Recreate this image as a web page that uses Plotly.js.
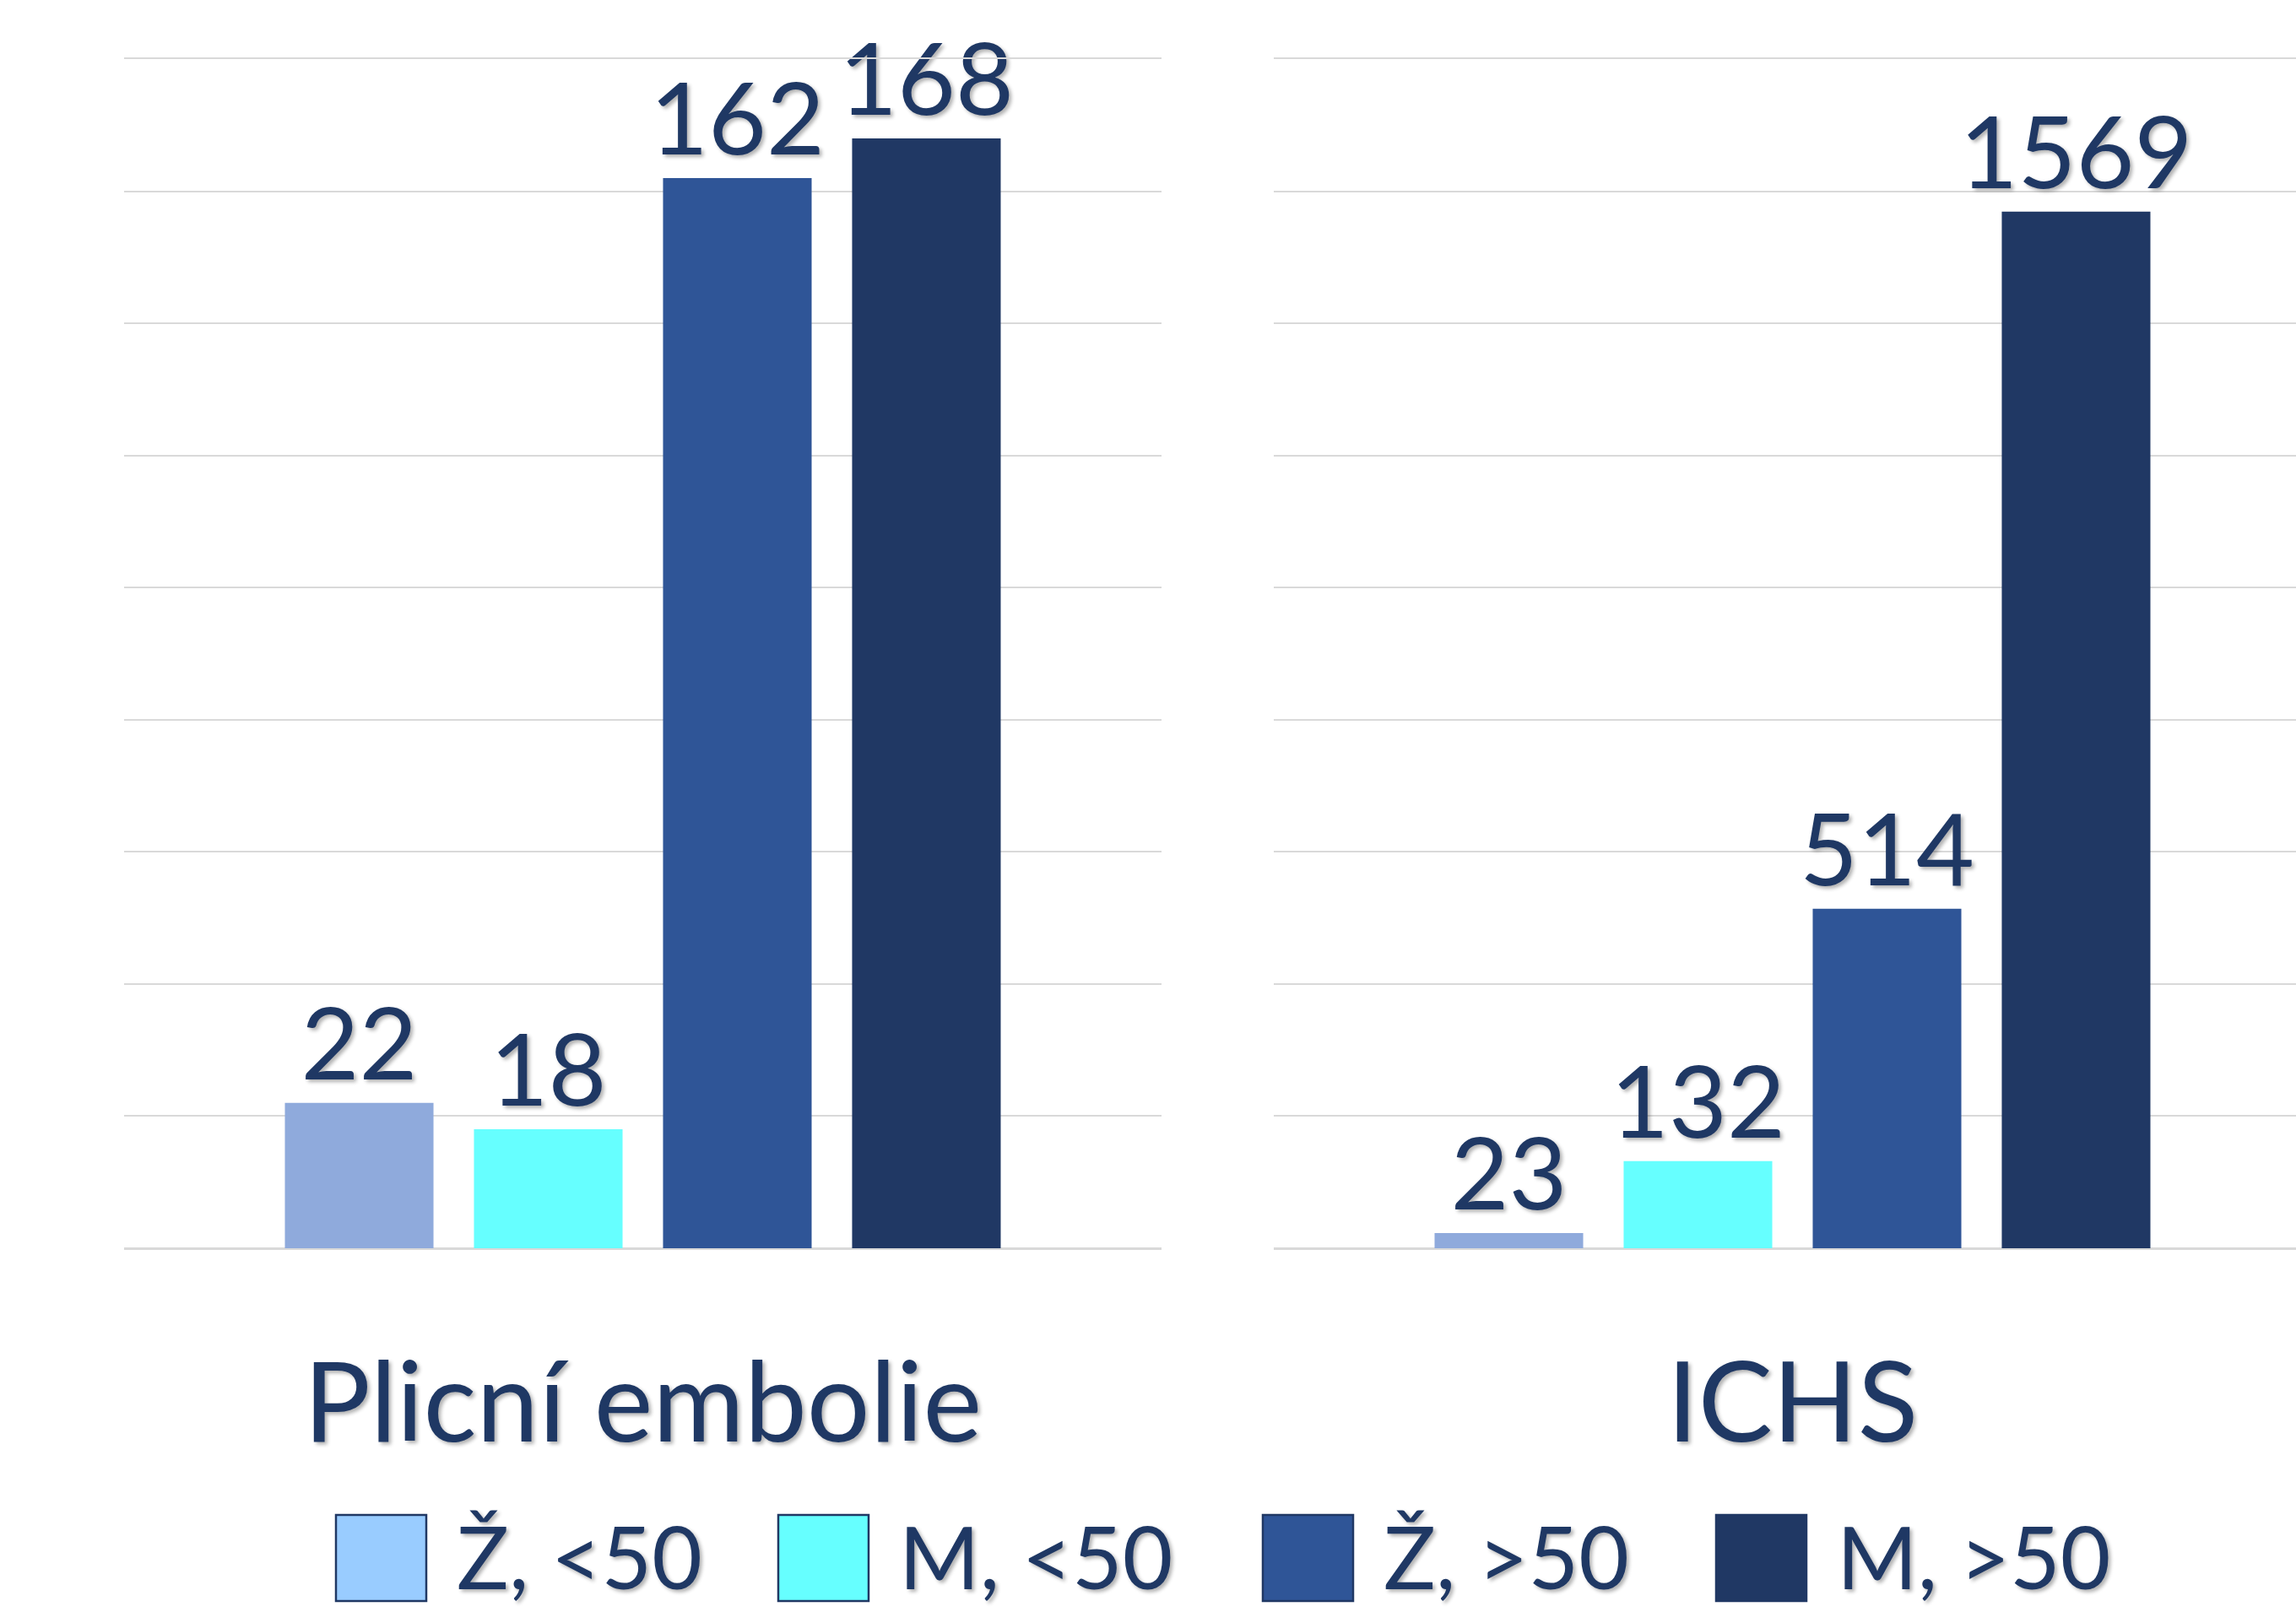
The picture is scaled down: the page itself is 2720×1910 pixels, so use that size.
<!DOCTYPE html>
<html>
<head>
<meta charset="utf-8">
<script src="https://cdn.plot.ly/plotly-3.0.1.min.js"></script>
<style>html,body{margin:0;padding:0;background:#ffffff;overflow:hidden}</style>
</head>
<body>
<div id="chart" style="width:2720px;height:1910px"></div>
<script>
// ---- data ----
const categories = ['Plicní embolie', 'ICHS'];
const seriesNames = ['Ž, <50', 'M, <50', 'Ž, >50', 'M, >50'];
const plicniEmbolie = [22, 18, 162, 168];
const ichs = [23, 132, 514, 1569];

// ---- styles ----
const barColors = ['#8FAADC', '#66FFFF', '#2F5597', '#203864'];
const legendColors = ['#99CCFF', '#66FFFF', '#2F5597', '#203864'];
const textColor = '#1F3864';
const fontFamily = 'Lato, "Open Sans", sans-serif';
const shadow = '3px 3px 4px rgba(0,0,0,0.30)';

const W = 2720, H = 1910;

const traces = [];
seriesNames.forEach((name, i) => {
  traces.push({
    type: 'bar', name: name, xaxis: 'x', yaxis: 'y',
    x: [categories[0]], y: [plicniEmbolie[i]],
    text: [String(plicniEmbolie[i])], textposition: 'outside',
    cliponaxis: false, constraintext: 'none',
    textfont: {family: fontFamily, size: 119, color: textColor, shadow: shadow},
    marker: {color: barColors[i]}, showlegend: false, hoverinfo: 'skip'
  });
  traces.push({
    type: 'bar', name: name, xaxis: 'x2', yaxis: 'y2',
    x: [categories[1]], y: [ichs[i]],
    text: [String(ichs[i])], textposition: 'outside',
    cliponaxis: false, constraintext: 'none',
    textfont: {family: fontFamily, size: 119, color: textColor, shadow: shadow},
    marker: {color: barColors[i]}, showlegend: false, hoverinfo: 'skip'
  });
});

// custom legend (large swatches like the original)
const legendSwatchX = [398, 922, 1496, 2033];
const swatchW = 107, swatchTop = 1795, swatchBottom = 1897, textGap = 36, legendMidY = 1843;
const shapes = [];
const annotations = [];
seriesNames.forEach((name, i) => {
  shapes.push({
    type: 'rect', xref: 'paper', yref: 'paper',
    x0: legendSwatchX[i] / W, x1: (legendSwatchX[i] + swatchW) / W,
    y0: 1 - swatchBottom / H, y1: 1 - swatchTop / H,
    fillcolor: legendColors[i], line: {color: '#203864', width: 2.5}
  });
  annotations.push({
    xref: 'paper', yref: 'paper',
    x: (legendSwatchX[i] + swatchW + textGap) / W, y: 1 - legendMidY / H,
    xanchor: 'left', yanchor: 'middle', showarrow: false,
    text: name, borderpad: 0, borderwidth: 0,
    font: {family: fontFamily, size: 103, color: textColor, shadow: shadow}
  });
});

const yDomain = [1 - 1479 / H, 1 - 70 / H];
const gridStyle = {gridcolor: '#D9D9D9', gridwidth: 2, zeroline: true, zerolinecolor: '#D9D9D9', zerolinewidth: 2,
  showticklabels: false, ticks: '', showline: false, fixedrange: true};
const xStyle = {type: 'category', showgrid: false, zeroline: false,
  showline: true, mirror: true, linecolor: '#D9D9D9', linewidth: 2, ticks: '',
  ticklabelstandoff: 69, fixedrange: true,
  tickfont: {family: fontFamily, size: 132, color: textColor, shadow: shadow}};

const layout = {
  width: W, height: H,
  margin: {l: 0, r: 0, t: 0, b: 0},
  paper_bgcolor: '#ffffff', plot_bgcolor: 'rgba(0,0,0,0)',
  barmode: 'group', bargap: 0.271, bargroupgap: 0.214,
  showlegend: false,
  font: {family: fontFamily, color: textColor},
  xaxis: Object.assign({}, xStyle, {domain: [147 / W, 1376 / W], anchor: 'y', range: [-0.5, 0.5]}),
  yaxis: Object.assign({}, gridStyle, {domain: yDomain, anchor: 'x', range: [0, 180], dtick: 20, tick0: 0}),
  xaxis2: Object.assign({}, xStyle, {domain: [1509 / W, 1], anchor: 'y2', range: [-0.5, -0.5 + 1211 / 1229]}),
  yaxis2: Object.assign({}, gridStyle, {domain: yDomain, anchor: 'x2', range: [0, 1800], dtick: 200, tick0: 0}),
  shapes: shapes,
  annotations: annotations
};

Plotly.newPlot('chart', traces, layout, {displayModeBar: false, staticPlot: true});
</script>
</body>
</html>
